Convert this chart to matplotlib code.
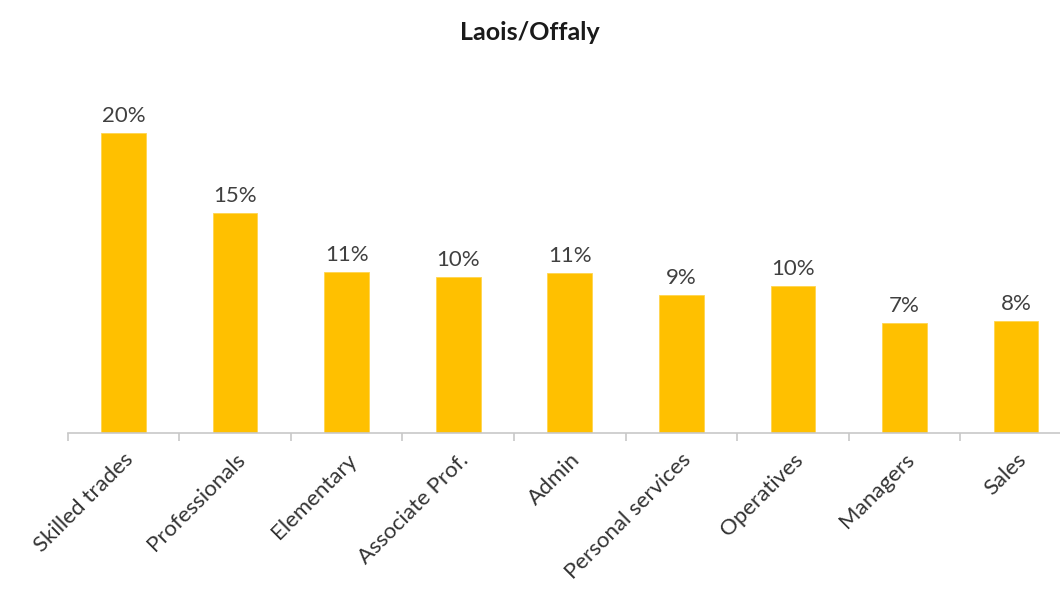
import matplotlib.pyplot as plt
import numpy as np

categories = ['Skilled trades', 'Professionals', 'Elementary', 'Associate Prof.',
              'Admin', 'Personal services', 'Operatives', 'Managers', 'Sales']
values = [20.0, 14.7, 10.75, 10.4, 10.7, 9.2, 9.8, 7.35, 7.5]
labels = ['20%', '15%', '11%', '10%', '11%', '9%', '10%', '7%', '8%']

plt.rcParams['font.family'] = ['Lato', 'DejaVu Sans']

fig = plt.figure(figsize=(10.6, 5.9), dpi=100)
ax = fig.add_axes([0.064, 0.266, 0.947, 0.559])

x = np.arange(len(categories))
bars = ax.bar(x, values, width=0.4, color='#FFC000', edgecolor='#FFD54F', linewidth=0.6)

for b, lab in zip(bars, labels):
    ax.text(b.get_x() + b.get_width() / 2, b.get_height() + 0.45, lab,
            ha='center', va='bottom', fontsize=16, color='#404040')

ax.set_xlim(-0.5, len(categories) - 0.5)
ax.set_ylim(0, 22)

for s in ['top', 'right', 'left']:
    ax.spines[s].set_visible(False)
ax.spines['bottom'].set_color('#C8C8C8')
ax.spines['bottom'].set_linewidth(1.2)
ax.set_yticks([])

# category labels sit at centres, tick marks at the boundaries
ax.set_xticks(x)
ax.set_xticklabels(categories, rotation=45, ha='right', rotation_mode='anchor',
                   fontsize=16, color='#333333')
ax.tick_params(axis='x', which='major', length=0, pad=12)
ax.set_xticks(np.arange(-0.5, len(categories), 1.0), minor=True)
ax.tick_params(axis='x', which='minor', length=6, color='#C8C8C8', width=1.2)

fig.text(0.5, 0.945, 'Laois/Offaly', ha='center', va='center',
         fontsize=18, fontweight='bold', color='#1a1a1a')

fig.savefig('out.png', dpi=100)
